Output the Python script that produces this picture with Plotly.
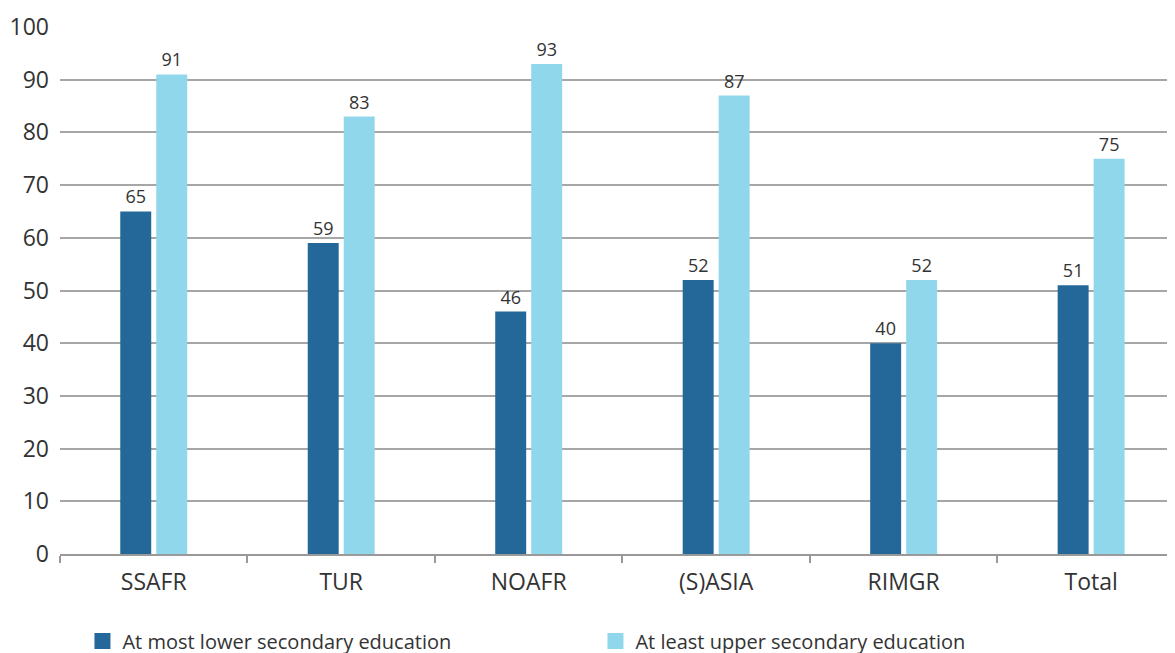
import plotly.graph_objects as go

categories = ["SSAFR", "TUR", "NOAFR", "(S)ASIA", "RIMGR", "Total"]
lower_secondary = [65, 59, 46, 52, 40, 51]
upper_secondary = [91, 83, 93, 87, 52, 75]
series_names = ["At most lower secondary education", "At least upper secondary education"]
y_ticks = [0, 10, 20, 30, 40, 50, 60, 70, 80, 90, 100]

dark = "#236899"
light = "#91D7EC"
font_family = "Open Sans, Noto Sans, sans-serif"
text_color = "#333333"

fig = go.Figure()
for vals, color in [(lower_secondary, dark), (upper_secondary, light)]:
    fig.add_trace(go.Bar(
        x=categories, y=vals, marker=dict(color=color, line=dict(width=0)),
        text=[str(v) for v in vals], textposition="outside",
        textfont=dict(size=18, color=text_color, family=font_family),
        cliponaxis=False, showlegend=False,
    ))
for name, color in zip(series_names, [dark, light]):
    fig.add_trace(go.Scatter(
        x=[None], y=[None], mode="markers", name=name,
        marker=dict(symbol="square", size=22, color=color),
    ))

fig.update_layout(
    width=1175, height=653,
    margin=dict(l=52, r=0, t=19, b=107, autoexpand=False),
    paper_bgcolor="white", plot_bgcolor="white",
    barmode="group", bargap=0.616, bargroupgap=0.14,
    font=dict(family=font_family, color=text_color),
    legend=dict(
        orientation="h", x=0.02, xanchor="left", y=-0.128, yanchor="top",
        entrywidth=468, entrywidthmode="pixels",
        font=dict(size=20, color=text_color, family=font_family),
        itemsizing="trace",
    ),
)
fig.update_xaxes(
    range=[-0.5, 5.49], tickson="boundaries", ticks="outside", ticklen=7,
    tickcolor="#999999", tickwidth=1.5, showgrid=False, automargin=False,
    showline=True, linecolor="#999999", linewidth=2, ticklabelstandoff=6,
    tickfont=dict(size=23, color=text_color, family=font_family),
)
fig.update_yaxes(
    range=[0, 100], tickvals=y_ticks, showgrid=True, gridcolor="#a6a6a6", gridwidth=1.5,
    zeroline=False, showline=False, ticks="", ticklabelstandoff=10, automargin=False,
    tickfont=dict(size=23, color=text_color, family=font_family),
)

fig.write_html("out.html")
